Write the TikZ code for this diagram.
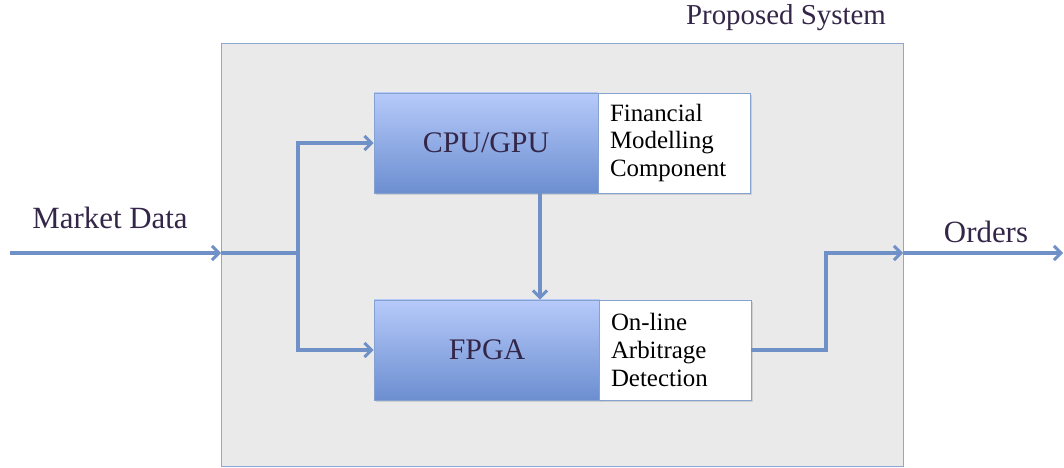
\documentclass[tikz,border=0pt]{standalone}
\usepackage{fontspec}
\setmainfont{Liberation Serif}
\usetikzlibrary{arrows.meta,shadows}
\definecolor{wire}{RGB}{112,144,200}
\definecolor{ink}{RGB}{52,38,72}
\definecolor{panel}{RGB}{234,234,234}
\definecolor{chiptop}{RGB}{182,202,250}
\definecolor{chipbot}{RGB}{108,142,208}

\begin{document}
\begin{tikzpicture}[x=1bp,y=-1bp,>={Straight Barb[length=7bp,width=14bp,line width=3bp]},
  flow/.style={draw=wire,line width=3.6bp},
  chip/.style={rectangle,draw=wire!85,line width=0.8bp,top color=chiptop,bottom color=chipbot,
    minimum height=100bp,inner sep=0pt,text=ink,font=\fontsize{30}{34}\selectfont,
    drop shadow={opacity=0.25,shadow xshift=2bp,shadow yshift=-2bp}},
  role/.style={rectangle,draw=wire!85,line width=0.8bp,fill=white,minimum height=100bp,
    text width=128bp,inner xsep=12bp,align=left,font=\fontsize{25}{28}\selectfont,
    drop shadow={opacity=0.25,shadow xshift=2bp,shadow yshift=-2bp}},
  caption/.style={text=ink,font=\fontsize{31}{34}\selectfont}]

  \useasboundingbox (0,0) rectangle (1064,468);

  % system boundary
  \node[rectangle,draw=wire!80,line width=0.8bp,fill=panel,minimum width=682bp,minimum height=423bp,inner sep=0pt] (sys) at (562,254.5) {};
  \node[caption,font=\fontsize{29}{32}\selectfont] (title) at (786,18) {Proposed System};

  % processing units
  \node[chip,minimum width=224bp] (cpu) at (486,143) {CPU/GPU};
  \node[role] (model) at (674,143) {Financial\\Modelling\\Component};
  \node[chip,minimum width=226bp] (fpga) at (487,350) {FPGA};
  \node[role] (arb) at (675,350) {On-line\\Arbitrage\\Detection};

  % wiring points
  \coordinate (src) at (10,253);
  \coordinate (inp) at (221,253);
  \coordinate (split) at (298,253);
  \coordinate (tap) at (540,0);
  \coordinate (join) at (826,253);
  \coordinate (outp) at (903,253);
  \coordinate (dst) at (1063,253);

  \node[caption] (mkt) at (110,218) {Market Data};
  \node[caption] (ord) at (986,232) {Orders};

  \draw[flow,->] (src) -- (inp);
  \draw[flow] (inp) -- (split);
  \draw[flow,->] (split) |- (cpu.west);
  \draw[flow,->] (split) |- (fpga.west);
  \draw[flow,->] (cpu.south -| tap) -- (fpga.north -| tap);
  \draw[flow,->] (arb.east) -| (join) -- (outp);
  \draw[flow,->] (outp) -- (dst);
\end{tikzpicture}
\end{document}
